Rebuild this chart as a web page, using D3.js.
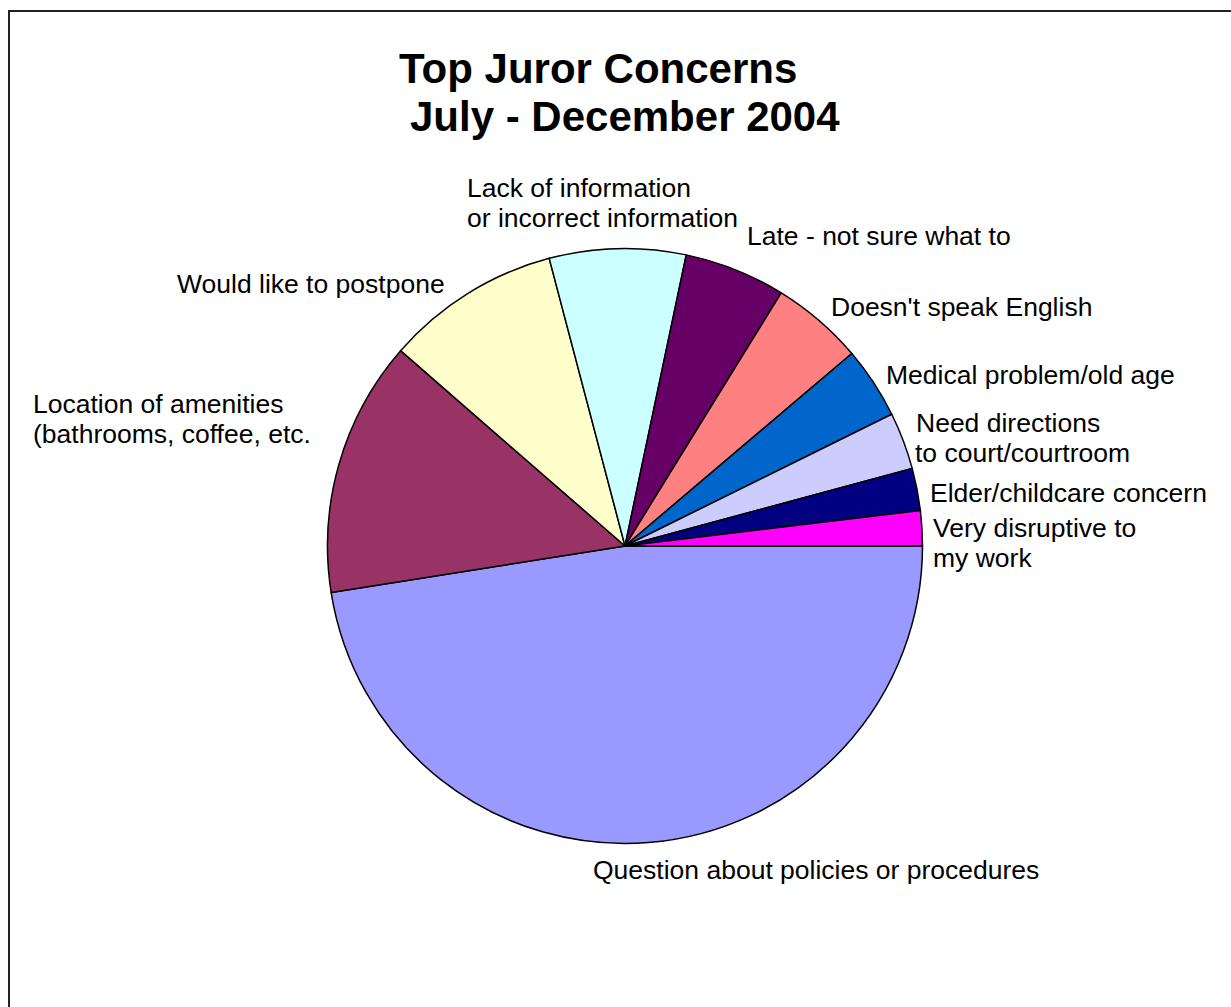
<!DOCTYPE html>
<html>
<head>
<meta charset="utf-8">
<script src="https://cdn.jsdelivr.net/npm/d3@7"></script>
<style>
  body { margin: 0; background: #fff; }
  text { font-family: "Liberation Sans", Arial, sans-serif; fill: #000; }
</style>
</head>
<body>
<script>
const width = 1231;
const height = 1007;

// slices in clockwise order, starting at 3 o'clock
const categories = [
  "Question about policies or procedures",
  "Location of amenities (bathrooms, coffee, etc.",
  "Would like to postpone",
  "Lack of information or incorrect information",
  "Late - not sure what to",
  "Doesn't speak English",
  "Medical problem/old age",
  "Need directions to court/courtroom",
  "Elder/childcare concern",
  "Very disruptive to my work"
];
const values = [47.5, 13.9, 9.5, 7.4, 5.5, 5.0, 3.9, 3.1, 2.3, 1.9];
const colors = ["#9999FF", "#993366", "#FFFFCC", "#CCFFFF", "#660066",
                "#FF8080", "#0066CC", "#CCCCFF", "#000080", "#FF00FF"];

// label lines as they wrap in the original
const labelLines = [
  ["Question about policies or procedures"],
  ["Location of amenities", "(bathrooms, coffee, etc."],
  ["Would like to postpone"],
  ["Lack of information", "or incorrect information"],
  ["Late - not sure what to"],
  ["Doesn't speak English"],
  ["Medical problem/old age"],
  ["Need directions", "to court/courtroom"],
  ["Elder/childcare concern"],
  ["Very disruptive to", "my work"]
];
// label anchor (left x, first baseline y)
const labelPos = [
  [593, 879], [33, 413], [177, 293], [467, 197], [747, 245],
  [831, 316], [886, 384], [916, 432], [930, 502], [933, 537]
];
const labelIndent = [0, 0, 0, 0, 0, 0, 0, -1, 0, 0];

const cx = 625, cy = 546, radius = 297.5;

const svg = d3.select("body")
  .append("svg")
  .attr("width", width)
  .attr("height", height);

// chart frame (runs off the right and bottom of the picture)
svg.append("rect")
  .attr("x", 9)
  .attr("y", 11)
  .attr("width", width + 20)
  .attr("height", height + 20)
  .attr("fill", "none")
  .attr("stroke", "#222")
  .attr("stroke-width", 2);

// title
const title = svg.append("text")
  .attr("font-size", "42px")
  .attr("font-weight", "bold");
title.append("tspan").attr("x", 399).attr("y", 83).text("Top Juror Concerns");
title.append("tspan").attr("x", 410).attr("y", 131).text("July - December 2004");

const pie = d3.pie()
  .sort(null)
  .startAngle(Math.PI / 2)
  .endAngle(Math.PI / 2 + 2 * Math.PI)
  .value(d => d);

const arc = d3.arc()
  .innerRadius(0)
  .outerRadius(radius);

const g = svg.append("g")
  .attr("transform", `translate(${cx}, ${cy})`);

g.selectAll("path")
  .data(pie(values))
  .join("path")
  .attr("d", arc)
  .attr("fill", (d, i) => colors[i])
  .attr("stroke", "#000")
  .attr("stroke-width", 1.5)
  .attr("stroke-linejoin", "round");

const labels = svg.append("g")
  .attr("font-size", "26.5px");

labels.selectAll("text")
  .data(categories)
  .join("text")
  .each(function(d, i) {
    const t = d3.select(this);
    labelLines[i].forEach((line, j) => {
      t.append("tspan")
        .attr("x", labelPos[i][0] + (j > 0 ? labelIndent[i] : 0))
        .attr("y", labelPos[i][1] + j * 29.5)
        .text(line);
    });
  });
</script>
</body>
</html>
